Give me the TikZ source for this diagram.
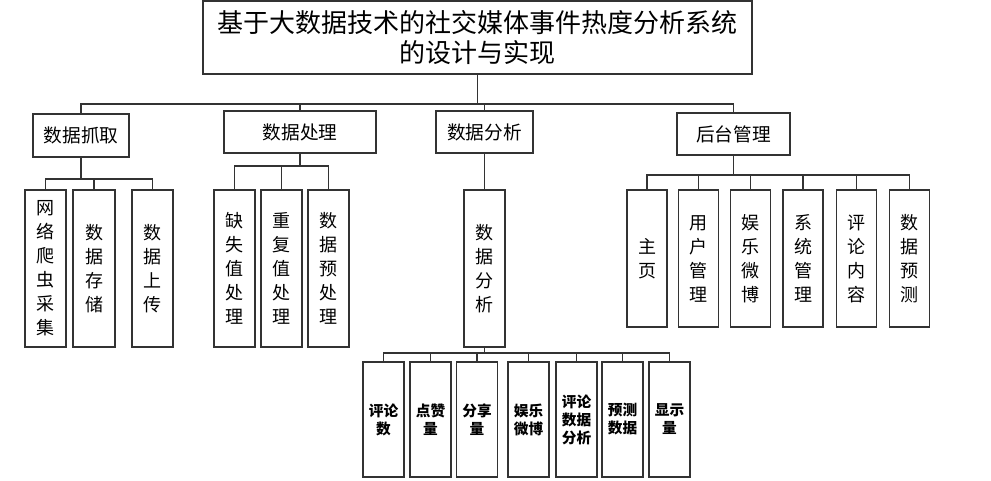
\documentclass[tikz,border=0pt]{standalone}
\usepackage{fontspec}
\setmainfont{Noto Sans CJK SC}

\begin{document}
\begin{tikzpicture}[x=0.75pt,y=-0.75pt]

\tikzset{
  box/.style={draw=black!80, line width=0.9pt, inner sep=0pt, align=center},
  topbox/.style={box, minimum width=411.75pt, minimum height=54.75pt, font=\fontsize{19.5}{23}\selectfont},
  partbox/.style={box, minimum height=31.5pt, font=\fontsize{14}{17}\selectfont},
  itembox/.style={box, minimum width=30.75pt, minimum height=117.75pt, font=\fontsize{13.5}{18}\selectfont},
  pagebox/.style={box, minimum width=30pt, minimum height=102.75pt, font=\fontsize{13.5}{18}\selectfont},
  databox/.style={box, minimum width=30.75pt, minimum height=86.25pt, font=\fontsize{11}{13.5}\selectfont\bfseries},
  wire/.style={draw=black!80, line width=0.8pt}
}
\useasboundingbox (0,0) rectangle (991,480);

\node[topbox] (T) at (477.5,37.5) {基于大数据技术的社交媒体事件热度分析系统\\的设计与实现};
\coordinate (T_j) at (477.5,104);
\draw[wire] (T) -- (T_j);

\node[partbox, minimum width=72pt, minimum height=32.25pt] (A) at (81,135.5) {数据抓取};
\node[partbox, minimum width=114pt] (B) at (300,132) {数据处理};
\node[partbox, minimum width=72.75pt] (C) at (484.5,132) {数据分析};
\node[partbox, minimum width=84.75pt] (D) at (733.5,134) {后台管理};
\draw[wire] (A) |- (T_j) -| (D);
\draw[wire] (B) -- (B |- T_j);
\draw[wire] (C) -- (C |- T_j);

\node[itembox] (A_1) at (45.5,268.5) {网\\络\\爬\\虫\\采\\集};
\node[itembox, minimum width=31.5pt] (A_2) at (94,268.5) {数\\据\\存\\储};
\node[itembox] (A_3) at (152.5,268.5) {数\\据\\上\\传};
\coordinate (A_j) at (81,179);
\draw[wire] (A) -- (A_j);
\draw[wire] (A_1) |- (A_j) -| (A_3);
\draw[wire] (A_2) -- (A_2 |- A_j);

\node[itembox] (B_1) at (234.5,268.5) {缺\\失\\值\\处\\理};
\node[itembox] (B_2) at (281.5,268.5) {重\\复\\值\\处\\理};
\node[itembox] (B_3) at (328.5,268.5) {数\\据\\预\\处\\理};
\coordinate (B_j) at (300,166);
\draw[wire] (B) -- (B_j);
\draw[wire] (B_1) |- (B_j) -| (B_3);
\draw[wire] (B_2) -- (B_2 |- B_j);

\node[itembox] (C_1) at (484.5,268.5) {数\\据\\分\\析};
\draw[wire] (C) -- (C_1);

\node[databox] (C_1_1) at (383.5,419.5) {评论\\数};
\node[databox] (C_1_2) at (430.5,419.5) {点赞\\量};
\node[databox] (C_1_3) at (477,419.5) {分享\\量};
\node[databox] (C_1_4) at (528.5,419.5) {娱乐\\微博};
\node[databox] (C_1_5) at (576.5,419.5) {评论\\数据\\分析};
\node[databox] (C_1_6) at (622.5,419.5) {预测\\数据};
\node[databox] (C_1_7) at (669.5,419.5) {显示\\量};
\coordinate (C_j) at (484.5,353);
\draw[wire] (C_1) -- (C_j);
\draw[wire] (C_1_1) |- (C_j) -| (C_1_7);
\foreach \i in {2,...,6}
  \draw[wire] (C_1_\i) -- (C_1_\i |- C_j);

\node[pagebox] (D_1) at (647,258.5) {主\\页};
\node[pagebox] (D_2) at (698.5,258.5) {用\\户\\管\\理};
\node[pagebox] (D_3) at (750.5,258.5) {娱\\乐\\微\\博};
\node[pagebox] (D_4) at (803,258.5) {系\\统\\管\\理};
\node[pagebox] (D_5) at (856.5,258.5) {评\\论\\内\\容};
\node[pagebox] (D_6) at (909.5,258.5) {数\\据\\预\\测};
\coordinate (D_j) at (733.5,175);
\draw[wire] (D) -- (D_j);
\draw[wire] (D_1) |- (D_j) -| (D_6);
\foreach \i in {2,...,5}
  \draw[wire] (D_\i) -- (D_\i |- D_j);

\end{tikzpicture}
\end{document}
